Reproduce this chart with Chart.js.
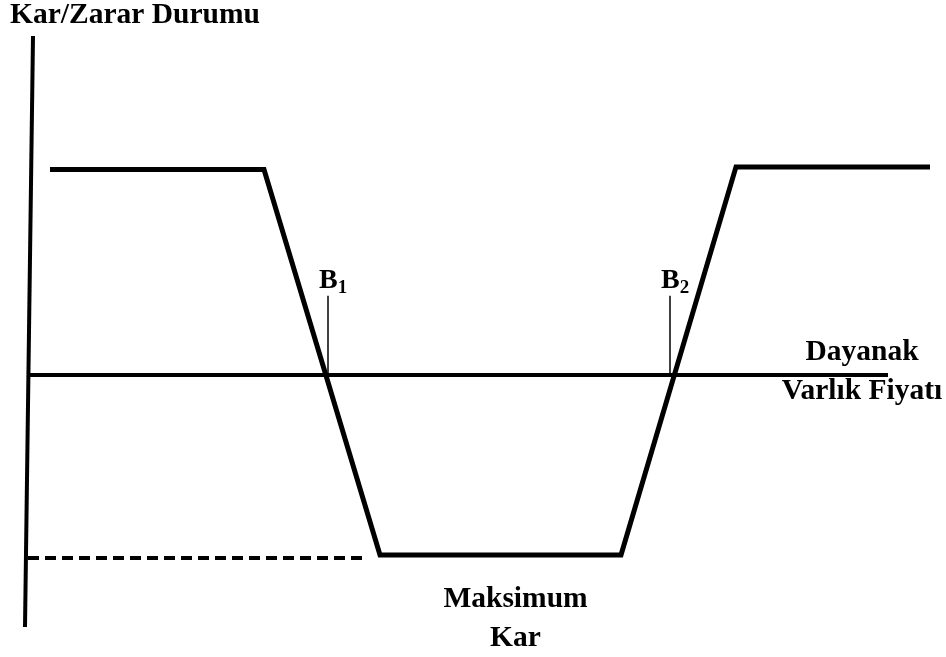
<!DOCTYPE html>
<html>
<head>
<meta charset="utf-8">
<title>Kar/Zarar Durumu</title>
<script src="https://cdn.jsdelivr.net/npm/chart.js@4"></script>
<style>
  html, body { margin: 0; padding: 0; background: #fff; }
  #wrap { width: 946px; height: 657px; position: relative; }
</style>
</head>
<body>
<div id="wrap"><canvas id="chart"></canvas></div>
<script>
// payoff (price vs profit/loss)
const priceKnots = [1.6, 23.0, 34.6, 58.7, 70.2, 89.6];
const payoffKnots = [11.42, 11.42, -10.0, -10.0, 11.56, 11.56];

// axes drawn as lines
const yAxisX = [-0.1, -0.9];
const yAxisY = [18.83, -14.0];
const xAxisX = [-0.7, 85.4];
const xAxisY = [0, 0];

// dashed level of maximum profit
const maxLevelX = [-0.6, 33.4];
const maxLevelY = [-10.17, -10.17];

// break-even markers
const breakEvenX = [29.4, 63.6];
const breakEvenTop = 4.4;
const breakEvenNames = ["1", "2"];

const toPoints = (xs, ys) => xs.map((x, i) => ({ x: x, y: ys[i] }));

const SERIF = '"Liberation Serif", "Times New Roman", serif';

const labelPlugin = {
  id: "labels",
  afterDatasetsDraw(chart) {
    const ctx = chart.ctx;
    const xs = chart.scales.x, ys = chart.scales.y;
    ctx.save();
    ctx.fillStyle = "#000";
    ctx.textBaseline = "alphabetic";

    // title of the y axis
    ctx.font = "bold 29.5px " + SERIF;
    ctx.textAlign = "left";
    ctx.fillText("Kar/Zarar Durumu", xs.getPixelForValue(yAxisX[0]) - 23, ys.getPixelForValue(yAxisY[0]) - 13);

    // B1, B2 over the break-even ticks
    breakEvenX.forEach((bx, i) => {
      const px = xs.getPixelForValue(bx);
      const py = ys.getPixelForValue(breakEvenTop);
      ctx.font = "bold 28px " + SERIF;
      ctx.textAlign = "left";
      const bLeft = px - 9;
      ctx.fillText("B", bLeft, py - 8);
      const w = ctx.measureText("B").width;
      ctx.font = "bold 19px " + SERIF;
      ctx.fillText(breakEvenNames[i], bLeft + w, py - 3);
    });

    // x axis title
    ctx.font = "bold 29.5px " + SERIF;
    ctx.textAlign = "center";
    const axY = ys.getPixelForValue(0);
    ctx.fillText("Dayanak", 862, axY - 15);
    ctx.fillText("Varlık Fiyatı", 862, axY + 24);

    // maximum profit label under the plateau
    const midX = (xs.getPixelForValue(priceKnots[2]) + xs.getPixelForValue(priceKnots[3])) / 2 + 15;
    const lowY = ys.getPixelForValue(payoffKnots[2]);
    ctx.fillText("Maksimum", midX, lowY + 52);
    ctx.fillText("Kar", midX, lowY + 91);
    ctx.restore();
  }
};

const lineStyle = {
  showLine: true,
  pointRadius: 0,
  borderColor: "#000",
  backgroundColor: "#000",
  fill: false,
  tension: 0,
  borderCapStyle: "butt",
  borderJoinStyle: "miter"
};

new Chart(document.getElementById("chart"), {
  type: "scatter",
  data: {
    datasets: [
      Object.assign({}, lineStyle, { label: "y ekseni", data: toPoints(yAxisX, yAxisY), borderWidth: 4 }),
      Object.assign({}, lineStyle, { label: "x ekseni", data: toPoints(xAxisX, xAxisY), borderWidth: 4 }),
      Object.assign({}, lineStyle, { label: "B1", data: toPoints([breakEvenX[0], breakEvenX[0]], [0, breakEvenTop]), borderWidth: 1.5 }),
      Object.assign({}, lineStyle, { label: "B2", data: toPoints([breakEvenX[1], breakEvenX[1]], [0, breakEvenTop]), borderWidth: 1.5 }),
      Object.assign({}, lineStyle, { label: "Maksimum Kar", data: toPoints(maxLevelX, maxLevelY), borderWidth: 4, borderDash: [11, 6] }),
      Object.assign({}, lineStyle, { label: "Kar/Zarar", data: toPoints(priceKnots, payoffKnots), borderWidth: 5 })
    ]
  },
  options: {
    responsive: true,
    maintainAspectRatio: false,
    animation: false,
    layout: { padding: 0 },
    scales: {
      x: { type: "linear", display: false, min: -3.4, max: 91.2 },
      y: { type: "linear", display: false, min: -15.667, max: 20.833 }
    },
    plugins: {
      legend: { display: false },
      tooltip: { enabled: false }
    }
  },
  plugins: [labelPlugin]
});
</script>
</body>
</html>
